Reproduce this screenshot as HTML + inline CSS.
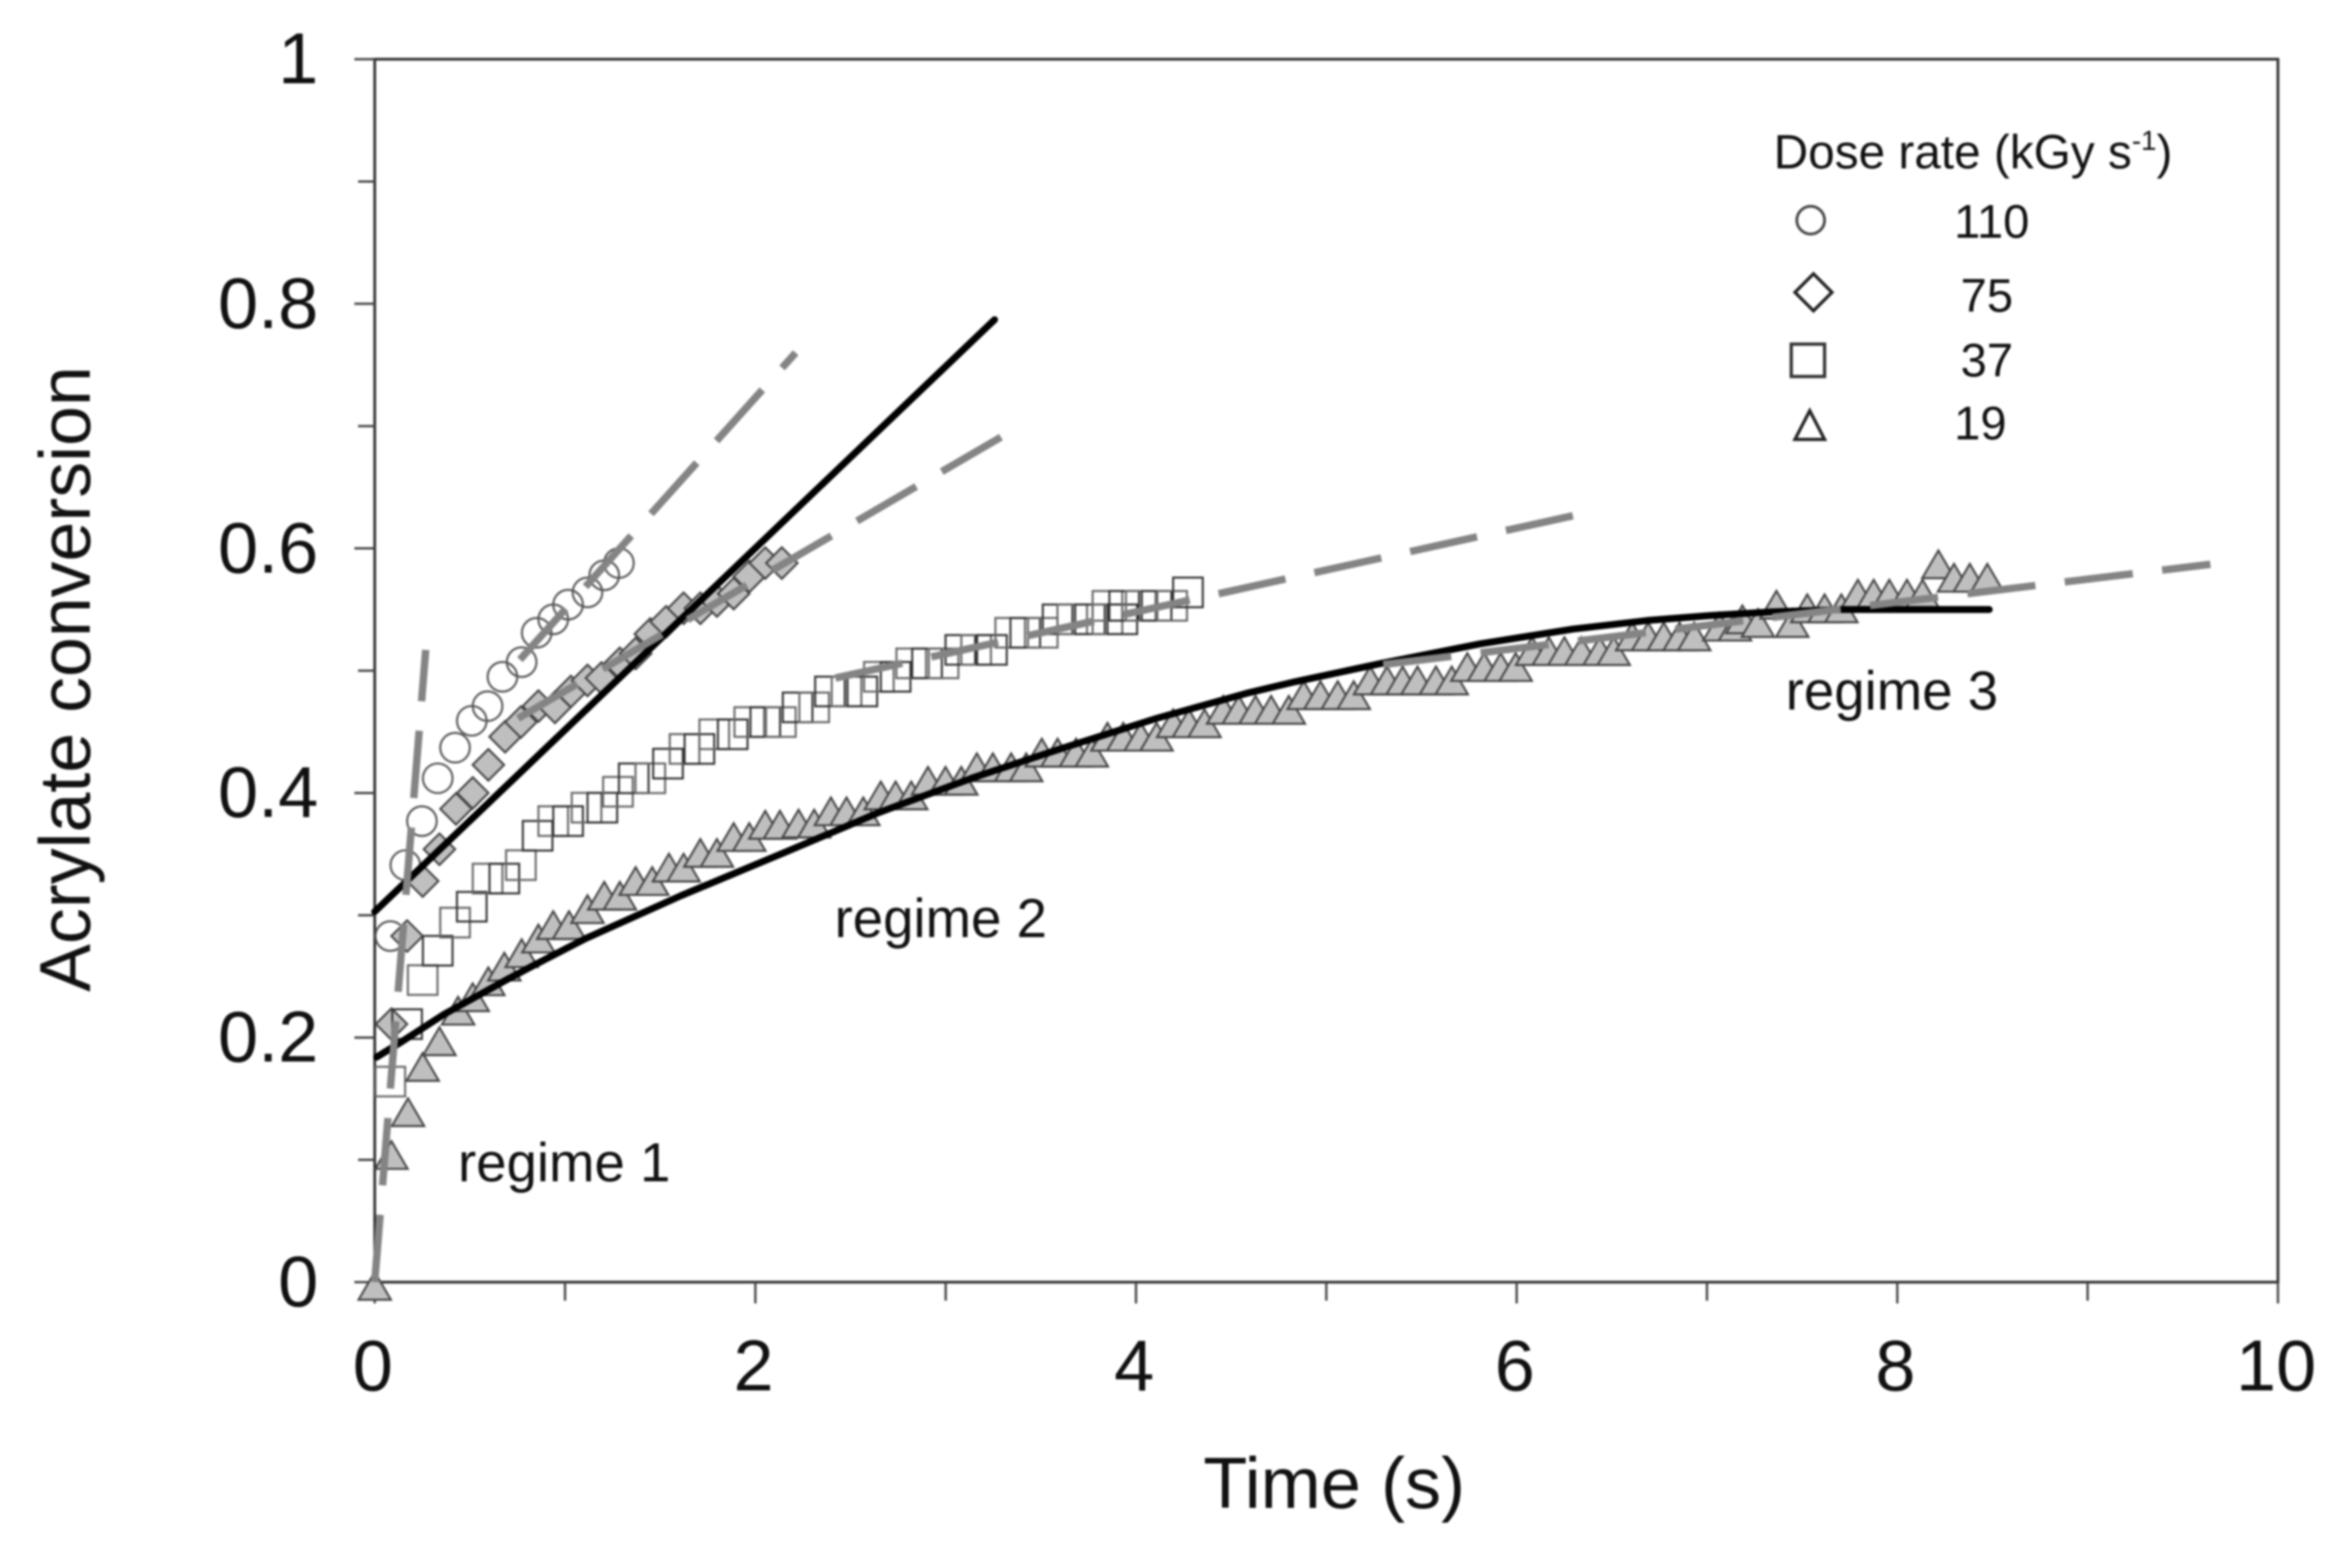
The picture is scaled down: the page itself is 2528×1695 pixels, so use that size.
<!DOCTYPE html>
<html lang="en">
<head>
<meta charset="utf-8">
<title>Acrylate conversion vs time</title>
<style>
html,body{margin:0;padding:0;background:#fff;}
#chart{display:block;width:2528px;height:1695px;filter:blur(1px);}
text{font-family:"Liberation Sans",sans-serif;fill:#111;}
</style>
</head>
<body>
<svg id="chart" xmlns="http://www.w3.org/2000/svg" width="2528" height="1695" viewBox="0 0 2528 1695">
  <rect x="0" y="0" width="2528" height="1695" fill="#fff"/>
  <g id="axes"></g>
  <g id="series-110"></g>
  <g id="series-75"></g>
  <g id="series-37"></g>
  <g id="series-19"></g>
  <g id="fits"></g>

  <text x="1442" y="1630" font-size="78" text-anchor="middle">Time (s)</text>
  <text transform="translate(97 734) rotate(-90)" font-size="77.5" text-anchor="middle">Acrylate conversion</text>

  <text x="495" y="1277" font-size="59">regime 1</text>
  <text x="902" y="1013" font-size="59">regime 2</text>
  <text x="1930" y="767" font-size="59">regime 3</text>

  <g>
    <text x="1917" y="182" font-size="51.6">Dose rate (kGy s<tspan font-size="30" dy="-20">-1</tspan><tspan dy="20">)</tspan></text>
    <circle cx="1957" cy="238" r="15" fill="none" stroke="#444" stroke-width="3"/>
    <text x="2112" y="257" font-size="51">110</text>
    <polygon points="1960,296 1980,316 1960,336 1940,316" fill="none" stroke="#222" stroke-width="3.5"/>
    <text x="2119" y="337" font-size="51">75</text>
    <rect x="1936" y="372" width="36" height="35" fill="none" stroke="#333" stroke-width="3.5"/>
    <text x="2119" y="407" font-size="51">37</text>
    <polygon points="1956,444 1972,475 1940,475" fill="none" stroke="#222" stroke-width="3.5"/>
    <text x="2112" y="475" font-size="51">19</text>
  </g>
</svg>
<script>
var xTickValues = [0,1,2,3,4,5,6,7,8,9,10];
var yTickValues = [0,0.1,0.2,0.3,0.4,0.5,0.6,0.7,0.8,0.9,1];
var xTickLabels = ["0","","2","","4","","6","","8","","10"];
var yTickLabels = ["0","","0.2","","0.4","","0.6","","0.8","","1"];

var circleTime = [0.082,0.161,0.248,0.331,0.422,0.510,0.593,0.671,0.772,0.851,0.938,1.016,1.118,1.206,1.283];
var circleConv = [0.283,0.341,0.377,0.412,0.437,0.459,0.471,0.495,0.507,0.531,0.542,0.554,0.564,0.578,0.588];

var diamondTime = [0.088,0.170,0.252,0.340,0.427,0.515,0.597,0.685,0.768,0.860,0.947,1.031,1.118,1.191,1.288,1.371,1.448,1.531,1.623,1.711,1.798,1.886,1.968,2.052,2.139];
var diamondConv = [0.211,0.283,0.328,0.354,0.387,0.400,0.423,0.446,0.458,0.471,0.470,0.483,0.492,0.494,0.506,0.514,0.530,0.540,0.551,0.551,0.557,0.563,0.577,0.588,0.588];

var squareTime = [0.082,0.170,0.252,0.331,0.422,0.510,0.593,0.681,0.768,0.856,0.938,1.016,1.113,1.196,1.278,1.361,1.448,1.541,1.628,1.706,1.784,1.881,1.968,2.052,2.134,2.222,2.309,2.392,2.479,2.562,2.649,2.737,2.819,2.902,2.989,3.077,3.160,3.243,3.339,3.418,3.510,3.588,3.665,3.758,3.850,3.928,3.850,3.938,4.025,4.108,4.190,4.273];
var squareConv = [0.164,0.211,0.247,0.271,0.294,0.307,0.330,0.330,0.341,0.365,0.377,0.377,0.388,0.388,0.401,0.412,0.412,0.424,0.436,0.436,0.448,0.448,0.458,0.458,0.458,0.470,0.470,0.483,0.483,0.483,0.495,0.495,0.506,0.506,0.506,0.517,0.517,0.517,0.531,0.531,0.531,0.542,0.542,0.542,0.542,0.542,0.553,0.553,0.553,0.553,0.553,0.564];

var triangleTime = [0,0.088,0.175,0.252,0.340,0.438,0.515,0.597,0.681,0.772,0.860,0.938,1.021,1.118,1.206,1.288,1.371,1.458,1.546,1.623,1.711,1.798,1.886,1.968,2.052,2.129,2.227,2.309,2.397,2.479,2.567,2.659,2.737,2.819,2.907,2.999,3.082,3.164,3.248,3.344,3.423,3.505,3.588,3.685,3.768,3.850,3.933,4.025,4.108,4.195,4.278,4.360,4.458,4.540,4.628,4.710,4.803,4.881,4.969,5.060,5.144,5.230,5.319,5.401,5.479,5.576,5.659,5.741,5.829,5.916,5.995,6.081,6.169,6.251,6.340,6.436,6.510,6.607,6.691,6.773,6.856,6.933,7.065,7.147,7.186,7.268,7.365,7.448,7.527,7.618,7.706,7.793,7.876,7.958,8.051,8.133,8.216,8.298,8.381,8.473];
var triangleConv = [0,0.107,0.142,0.179,0.200,0.225,0.236,0.249,0.261,0.272,0.284,0.295,0.295,0.308,0.319,0.319,0.331,0.331,0.342,0.342,0.354,0.354,0.367,0.367,0.377,0.377,0.378,0.378,0.388,0.388,0.388,0.401,0.401,0.401,0.413,0.413,0.413,0.424,0.424,0.424,0.424,0.436,0.436,0.436,0.436,0.449,0.449,0.449,0.449,0.460,0.460,0.460,0.471,0.471,0.471,0.471,0.471,0.483,0.483,0.483,0.483,0.495,0.495,0.495,0.495,0.495,0.495,0.506,0.506,0.506,0.506,0.519,0.519,0.519,0.519,0.519,0.519,0.531,0.531,0.531,0.531,0.531,0.539,0.539,0.545,0.542,0.557,0.542,0.554,0.554,0.554,0.566,0.566,0.566,0.566,0.566,0.590,0.579,0.579,0.579];

var solidLineTime = [0,3.257];
var solidLineConv = [0.303,0.787];

var curveTime = [0.01,0.135,0.364,0.690,0.835,1.108,1.609,2.163,2.649,3.135,3.621,4.108,4.594,4.837,5.290,5.810,6.295,6.685,7.011,7.330,7.720,8.483];
var curveConv = [0.184,0.196,0.219,0.247,0.259,0.281,0.316,0.352,0.384,0.412,0.437,0.461,0.482,0.491,0.506,0.522,0.534,0.541,0.545,0.548,0.550,0.550];

var dashRegime1Time = [0,0.268];
var dashRegime1Conv = [0,0.517];
var dash110Time = [0.763,2.212];
var dash110Conv = [0.509,0.760];
var dash75Time = [0.753,3.291];
var dash75Conv = [0.461,0.691];
var dash37Time = [2.421,6.305];
var dash37Conv = [0.494,0.627];
var dash19Time = [5.299,9.645];
var dash19Conv = [0.505,0.587];

var SVG_NS = 'http://www.w3.org/2000/svg';
function xPos(t){ return 405 + 205.7 * t; }
function yPos(v){ return 1386 - 1322 * v; }
function make(tag, parent){
  var el = document.createElementNS(SVG_NS, tag);
  parent.appendChild(el);
  return el;
}

/* axes */
var axesGroup = document.getElementById('axes');
var frame = make('rect', axesGroup);


frame.setAttribute('x', xPos(0));
frame.setAttribute('y', yPos(1));
frame.setAttribute('width', xPos(10) - xPos(0));
frame.setAttribute('height', yPos(0) - yPos(1));
frame.setAttribute('fill', 'none');
frame.setAttribute('stroke', '#333');
frame.setAttribute('stroke-width', '3');

xTickValues.forEach(function(t, i){
  var major = xTickLabels[i] !== '';
  var tick = make('line', axesGroup);
  
  
  tick.setAttribute('x1', xPos(t));
  tick.setAttribute('x2', xPos(t));
  tick.setAttribute('y1', yPos(0));
  tick.setAttribute('y2', yPos(0) + (major ? 23 : 20));
  tick.setAttribute('stroke', '#444');
  tick.setAttribute('stroke-width', '2.5');
  if (major) {
    var label = make('text', axesGroup);
    
    
    label.setAttribute('x', xPos(t) - 2);
    label.setAttribute('y', 1503);
    label.setAttribute('font-size', '78');
    label.setAttribute('text-anchor', 'middle');
    label.textContent = xTickLabels[i];
  }
});

yTickValues.forEach(function(v, i){
  var major = yTickLabels[i] !== '';
  var tick = make('line', axesGroup);
  
  
  tick.setAttribute('x1', xPos(0) - (major ? 22 : 18));
  tick.setAttribute('x2', xPos(0));
  tick.setAttribute('y1', yPos(v));
  tick.setAttribute('y2', yPos(v));
  tick.setAttribute('stroke', '#444');
  tick.setAttribute('stroke-width', '2.5');
  if (major) {
    var label = make('text', axesGroup);
    
    
    label.setAttribute('x', 344);
    label.setAttribute('y', yPos(v) + 26);
    label.setAttribute('font-size', '78');
    label.setAttribute('text-anchor', 'end');
    label.textContent = yTickLabels[i];
  }
});

/* markers */
var circleGroup = document.getElementById('series-110');
circleTime.forEach(function(t, i){
  var c = make('circle', circleGroup);
  
  
  c.setAttribute('cx', xPos(t));
  c.setAttribute('cy', yPos(circleConv[i]));
  c.setAttribute('r', '16');
  c.setAttribute('fill', 'none');
  c.setAttribute('stroke', '#555');
  c.setAttribute('stroke-width', '2.2');
});

var diamondGroup = document.getElementById('series-75');
diamondTime.forEach(function(t, i){
  var cx = xPos(t), cy = yPos(diamondConv[i]), r = 17;
  var d = make('polygon', diamondGroup);
  
  
  d.setAttribute('points', cx + ',' + (cy - r) + ' ' + (cx + r) + ',' + cy + ' ' + cx + ',' + (cy + r) + ' ' + (cx - r) + ',' + cy);
  d.setAttribute('fill', '#bfbfbf');
  d.setAttribute('stroke', '#444');
  d.setAttribute('stroke-width', '2.2');
});

var squareGroup = document.getElementById('series-37');
squareTime.forEach(function(t, i){
  var s = make('rect', squareGroup);
  
  
  s.setAttribute('x', xPos(t) - 16);
  s.setAttribute('y', yPos(squareConv[i]) - 16);
  s.setAttribute('width', '32');
  s.setAttribute('height', '32');
  s.setAttribute('fill', 'none');
  s.setAttribute('stroke', i % 2 ? '#333' : '#666');
  s.setAttribute('stroke-width', '2.2');
});

var triangleGroup = document.getElementById('series-19');
triangleTime.forEach(function(t, i){
  var cx = xPos(t), cy = yPos(triangleConv[i]);
  var tr = make('polygon', triangleGroup);
  
  
  tr.setAttribute('points', cx + ',' + (cy - 11) + ' ' + (cx + 17.5) + ',' + (cy + 19) + ' ' + (cx - 17.5) + ',' + (cy + 19));
  tr.setAttribute('fill', '#bfbfbf');
  tr.setAttribute('stroke', '#444');
  tr.setAttribute('stroke-width', '2.2');
});

/* fit lines */
var fitGroup = document.getElementById('fits');
function pathFrom(ts, vs){
  return ts.map(function(t, i){ return (i ? 'L' : 'M') + xPos(t) + ' ' + yPos(vs[i]); }).join(' ');
}

var solidLine = make('path', fitGroup);


solidLine.setAttribute('d', pathFrom(solidLineTime, solidLineConv));
solidLine.setAttribute('fill', 'none');
solidLine.setAttribute('stroke', '#000');
solidLine.setAttribute('stroke-width', '7.5');
solidLine.setAttribute('stroke-linecap', 'round');

var curveLine = make('path', fitGroup);


curveLine.setAttribute('d', pathFrom(curveTime, curveConv));
curveLine.setAttribute('fill', 'none');
curveLine.setAttribute('stroke', '#000');
curveLine.setAttribute('stroke-width', '7.5');
curveLine.setAttribute('stroke-linecap', 'round');
curveLine.setAttribute('stroke-linejoin', 'round');

var dashRegime1 = make('path', fitGroup);


dashRegime1.setAttribute('d', pathFrom(dashRegime1Time, dashRegime1Conv));

var dash110 = make('path', fitGroup);


dash110.setAttribute('d', pathFrom(dash110Time, dash110Conv));

var dash75 = make('path', fitGroup);


dash75.setAttribute('d', pathFrom(dash75Time, dash75Conv));

var dash37 = make('path', fitGroup);


dash37.setAttribute('d', pathFrom(dash37Time, dash37Conv));

var dash19 = make('path', fitGroup);


dash19.setAttribute('d', pathFrom(dash19Time, dash19Conv));

[dashRegime1, dash110, dash75, dash37, dash19].forEach(function(p){
  p.setAttribute('fill', 'none');
  p.setAttribute('stroke', '#848484');
  p.setAttribute('stroke-width', '8');
  p.setAttribute('stroke-dasharray', p === dashRegime1 ? '73 32' : '74 32');
});
</script>
</body>
</html>
